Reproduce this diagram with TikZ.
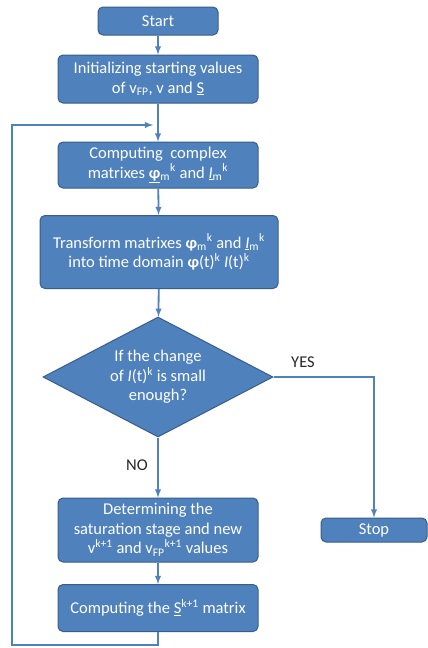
\documentclass[tikz,border=0pt]{standalone}
\usepackage{fontspec}
\setmainfont{Carlito}
\usepackage{tikz}
\usetikzlibrary{shapes.geometric}
\definecolor{boxblue}{RGB}{79,129,189}
\definecolor{boxedge}{RGB}{56,93,138}
\begin{document}
\begin{tikzpicture}[x=1pt, y=-1pt, font=\fontsize{16.5}{19.5}\selectfont,
    main/.style={draw=boxedge, fill=boxblue, rounded corners=5, line width=1pt, text=white, align=center, inner sep=1pt},
    dec/.style={draw=boxedge, fill=boxblue, diamond, aspect=1.9, line width=1pt, text=white, align=center, inner sep=0pt, minimum width=230pt, minimum height=120pt},
    n/.style={-latex, draw=boxblue, line width=1.8pt},
    lbl/.style={text=black!85}]
            \useasboundingbox (0,0) rectangle (428,648);
            % nodes
            \node[main, minimum width=120pt, minimum height=28pt] (start) at (158,21) {Start};
            \node[main, minimum width=200pt, minimum height=48pt] (init) at (158,79) {Initializing starting values\\ of v\textsubscript{FP}, v and \underline{S}};
            \node[main, minimum width=200pt, minimum height=46pt] (cplx) at (158,165) {Computing\ \ complex\\ matrixes \underline{\textbf{φ}}\textsubscript{m}\textsuperscript{k} and \underline{\textit{I}}\textsubscript{m}\textsuperscript{k}};
            \node[main, minimum width=238pt, minimum height=73pt] (trans) at (159,252) {Transform matrixes \textbf{φ}\textsubscript{m}\textsuperscript{k} and \underline{\textit{I}}\textsubscript{m}\textsuperscript{k}\\ into time domain \textbf{φ}(t)\textsuperscript{k} \textit{I}(t)\textsuperscript{k}};
            \node[dec] (check) at (158,377) {If the change\\ of \textit{I}(t)\textsuperscript{k} is small\\ enough?};
            \node[main, minimum width=200pt, minimum height=64pt] (sat) at (158,530) {Determining the\\ saturation stage and new\\ v\textsuperscript{k+1} and v\textsubscript{FP}\textsuperscript{k+1} values};
            \node[main, minimum width=200pt, minimum height=47pt] (smat) at (158,608) {Computing the \underline{S}\textsuperscript{k+1} matrix};
            \node[main, minimum width=106pt, minimum height=24pt] (stop) at (374,530) {Stop};
            \node[lbl] (yes) at (303,362) {YES};
            \node[lbl] (no) at (137,465) {NO};
            \coordinate (turn) at (374,377);
            \coordinate (loopin) at (153,125);
            \coordinate (botright) at (158,645);
            \coordinate (botleft) at (12,645);
            \coordinate (topleft) at (12,125);
            % edges
            \draw [n] (start) -- (init);
            \draw [n] (init) -- (cplx);
            \draw [n] (cplx) -- (trans);
            \draw [n] (trans) -- (check);
            \draw [n] (check) -- (sat);
            \draw [n] (sat) -- (smat);
            \draw [n] (check.east) -- (turn) -- (stop);
            \draw [n] (smat) -- (botright) -- (botleft) -- (topleft) -- (loopin);
        \end{tikzpicture}
\end{document}
